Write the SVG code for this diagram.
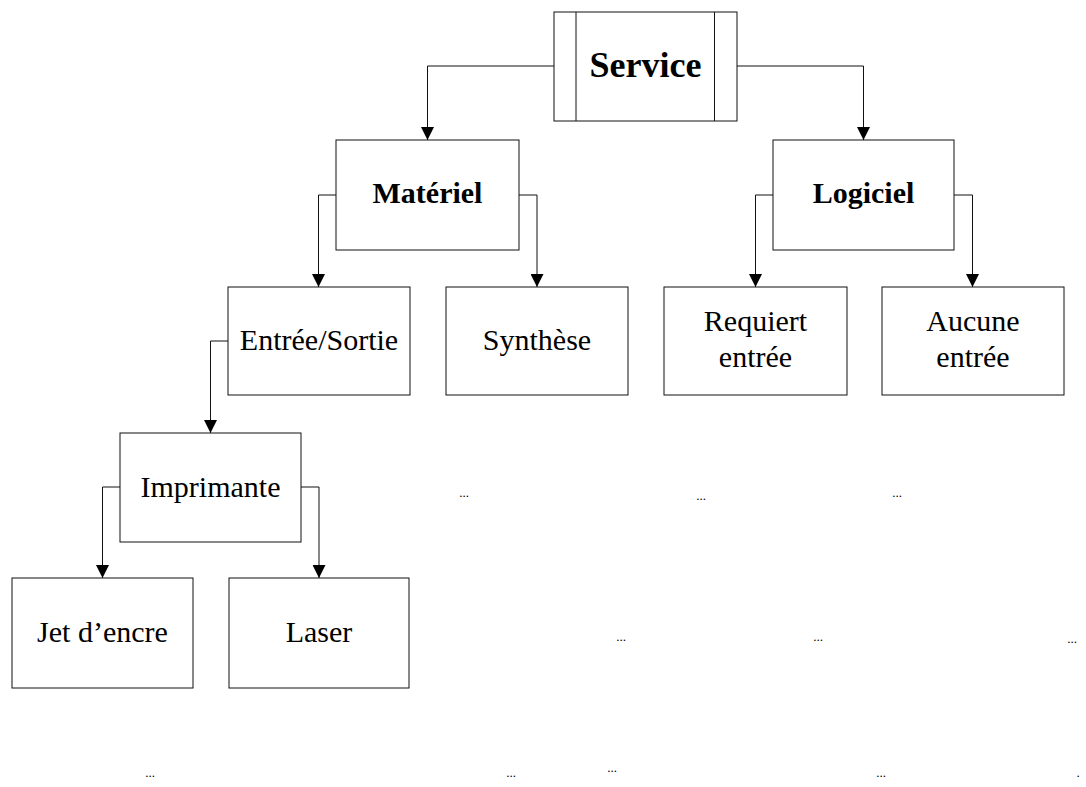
<svg xmlns="http://www.w3.org/2000/svg" width="1086" height="787" viewBox="0 0 1086 787">
  <style>
    .box { fill: #fff; stroke: #111; stroke-width: 1; }
    .wire { fill: none; stroke: #111; stroke-width: 1; }
    .lbl { font-family: "Liberation Serif", "Times New Roman", serif; font-size: 30px; fill: #000; text-anchor: middle; }
    .bold { font-weight: bold; }
    .dots { font-family: "Liberation Serif", "Times New Roman", serif; font-size: 13px; fill: #000; text-anchor: middle; }
  </style>
  <defs>
    <marker id="arrow" markerUnits="userSpaceOnUse" markerWidth="14" markerHeight="13" refX="13" refY="6.5" orient="auto">
      <path d="M0,0 L13,6.5 L0,13 z" fill="#000"/>
    </marker>
  </defs>
  <rect width="1086" height="787" fill="#fff"/>

  <!-- connectors -->
  <g id="connectors">
    <path class="wire" d="M554,66 H427.5 V140" marker-end="url(#arrow)"/>
    <path class="wire" d="M737,66 H863.5 V140" marker-end="url(#arrow)"/>
    <path class="wire" d="M336,195 H318.5 V287" marker-end="url(#arrow)"/>
    <path class="wire" d="M519,195 H537 V287" marker-end="url(#arrow)"/>
    <path class="wire" d="M773,195 H755.5 V287" marker-end="url(#arrow)"/>
    <path class="wire" d="M954,195 H972.5 V287" marker-end="url(#arrow)"/>
    <path class="wire" d="M228,341 H210.5 V433" marker-end="url(#arrow)"/>
    <path class="wire" d="M120,487 H102.5 V578" marker-end="url(#arrow)"/>
    <path class="wire" d="M301,487 H319 V578" marker-end="url(#arrow)"/>
  </g>

  <!-- root: predefined-process style box -->
  <g id="service">
    <rect class="box" x="554" y="12" width="183" height="109"/>
    <line class="wire" x1="576" y1="12" x2="576" y2="121"/>
    <line class="wire" x1="714.5" y1="12" x2="714.5" y2="121"/>
    <text class="lbl bold" x="645.5" y="77" style="font-size:36px">Service</text>
  </g>

  <g id="materiel">
    <rect class="box" x="336" y="140" width="183" height="110"/>
    <text class="lbl bold" x="427.5" y="203">Matériel</text>
  </g>

  <g id="logiciel">
    <rect class="box" x="773" y="140" width="181" height="110"/>
    <text class="lbl bold" x="863.5" y="203">Logiciel</text>
  </g>

  <g id="entree-sortie">
    <rect class="box" x="228" y="287" width="182" height="108"/>
    <text class="lbl" x="319" y="350">Entrée/Sortie</text>
  </g>

  <g id="synthese">
    <rect class="box" x="446" y="287" width="182" height="108"/>
    <text class="lbl" x="537" y="350">Synthèse</text>
  </g>

  <g id="requiert-entree">
    <rect class="box" x="664" y="287" width="183" height="108"/>
    <text class="lbl" x="755.5" y="331">Requiert</text>
    <text class="lbl" x="755.5" y="367">entrée</text>
  </g>

  <g id="aucune-entree">
    <rect class="box" x="882" y="287" width="182" height="108"/>
    <text class="lbl" x="973" y="331">Aucune</text>
    <text class="lbl" x="973" y="367">entrée</text>
  </g>

  <g id="imprimante">
    <rect class="box" x="120" y="433" width="181" height="109"/>
    <text class="lbl" x="210.5" y="497">Imprimante</text>
  </g>

  <g id="jet-encre">
    <rect class="box" x="12" y="578" width="181" height="110"/>
    <text class="lbl" x="102.5" y="642">Jet d’encre</text>
  </g>

  <g id="laser">
    <rect class="box" x="229" y="578" width="180" height="110"/>
    <text class="lbl" x="319" y="642">Laser</text>
  </g>

  <!-- continuation marks -->
  <g id="ellipses">
    <text class="dots" x="464" y="497">...</text>
    <text class="dots" x="701" y="500">...</text>
    <text class="dots" x="897" y="497">...</text>
    <text class="dots" x="621" y="641">...</text>
    <text class="dots" x="818" y="641">...</text>
    <text class="dots" x="1072" y="643">...</text>
    <text class="dots" x="150" y="777">...</text>
    <text class="dots" x="511" y="777">...</text>
    <text class="dots" x="612" y="772">...</text>
    <text class="dots" x="881" y="777">...</text>
    <text class="dots" x="1078" y="777">.</text>
  </g>
</svg>
